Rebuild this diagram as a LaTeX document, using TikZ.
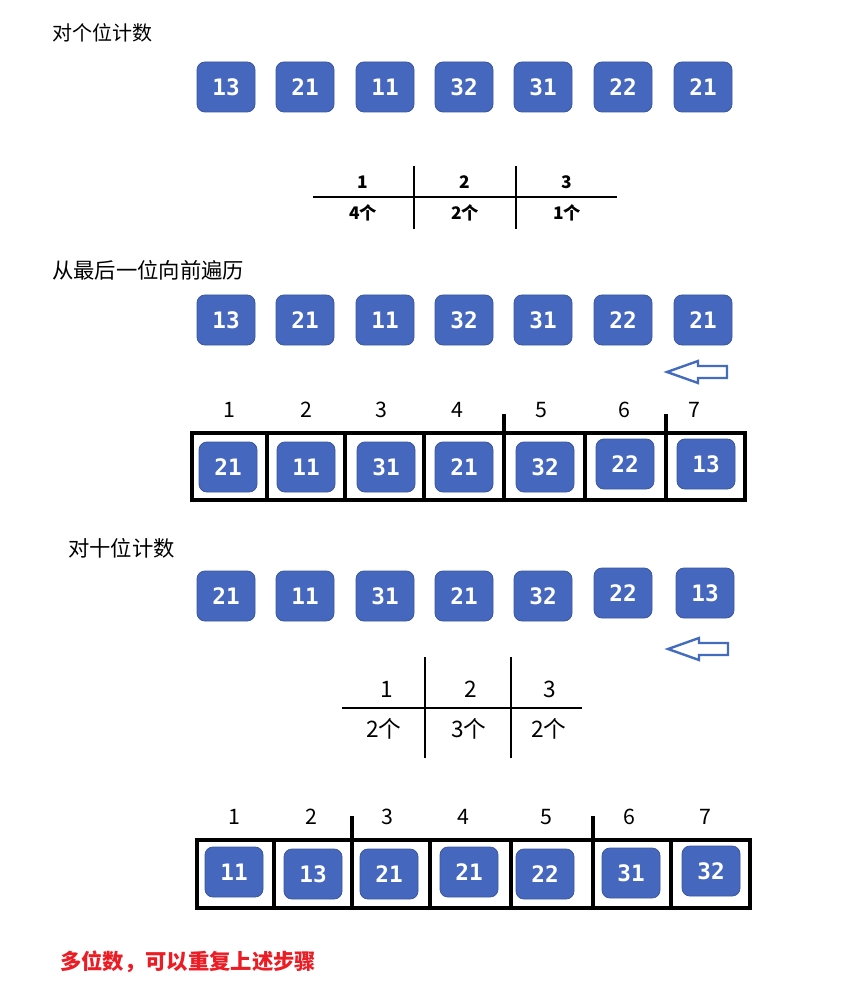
\documentclass[tikz,border=0pt]{standalone}
\usepackage{fontspec}
\setmainfont{Noto Sans CJK SC}
\newfontface\tilemonoface{DejaVu Sans Mono Bold}
\definecolor{tileblue}{RGB}{70,103,190}
\definecolor{tileedge}{RGB}{58,86,160}
\definecolor{arrowblue}{RGB}{68,108,190}
\definecolor{notered}{RGB}{236,28,36}
\begin{document}
\begin{tikzpicture}[x=0.75pt,y=-0.75pt,
  tile/.style={rectangle, rounded corners=6pt, fill=tileblue, draw=tileedge, line width=0.6pt,
    minimum width=43.5pt, minimum height=37.5pt, inner sep=0pt, text=white,
    font=\fontsize{17}{17}\tilemonoface},
  title/.style={anchor=west, inner sep=0pt, font=\fontsize{16}{16}\selectfont},
  hdrbold/.style={inner sep=0pt, font=\bfseries\fontsize{13}{13}\selectfont},
  lbl/.style={inner sep=0pt, font=\fontsize{16}{16}\selectfont},
  thinrule/.style={line width=1.6pt},
  boxline/.style={line width=2.3pt},
  hollowarrow/.style={draw=arrowblue, line width=1.8pt, line join=miter, fill=white}
]
\useasboundingbox (0,0) rectangle (863,998);

% ---------- Section 1 ----------
\node[title, font=\fontsize{15}{15}\selectfont] (t1) at (52,33) {对个位计数};
\foreach \v/\x [count=\i] in {13/226,21/305,11/385,32/464,31/543,22/623,21/703}
  \node[tile] (r1\i) at (\x,87) {\v};

\coordinate (h1a) at (313,197); \coordinate (h1b) at (617,197);
\draw[thinrule] (h1a) -- (h1b);
\coordinate (v1a) at (414,166); \coordinate (v1b) at (414,229);
\coordinate (v2a) at (516,166); \coordinate (v2b) at (516,229);
\draw[thinrule] (v1a) -- (v1b);
\draw[thinrule] (v2a) -- (v2b);
\node[hdrbold] (c1h1) at (363,182) {1};
\node[hdrbold] (c1h2) at (465,182) {2};
\node[hdrbold] (c1h3) at (567,182) {3};
\node[hdrbold] (c1v1) at (363,213) {4个};
\node[hdrbold] (c1v2) at (465,213) {2个};
\node[hdrbold] (c1v3) at (567,213) {1个};

% ---------- Section 2 ----------
\node[title] (t2) at (52,270) {从最后一位向前遍历};
\foreach \v/\x [count=\i] in {13/226,21/305,11/385,32/464,31/543,22/623,21/703}
  \node[tile] (r2\i) at (\x,320) {\v};

\draw[hollowarrow] (667,372) -- (698,361) -- (698,366) -- (727,366) -- (727,378) -- (698,378) -- (698,383) -- cycle;

\foreach \n/\x in {1/229,2/306,3/381,4/457,5/541,6/624,7/694}
  \node[lbl] (n2\n) at (\x,410) {\n};
\coordinate (b2a) at (192,433); \coordinate (b2b) at (745,500);
\draw[boxline] (b2a) rectangle (b2b);
\foreach \x in {267,345,424,504,585,666}
  \draw[boxline] (\x,433) -- (\x,500);
\draw[boxline] (504,414) -- (504,433);
\draw[boxline] (666,414) -- (666,433);
\foreach \v/\x/\y [count=\i] in {21/228/467,11/306/467,31/386/467,21/464/467,32/545/467,22/625/464,13/706/464}
  \node[tile] (s2\i) at (\x,\y) {\v};

% ---------- Section 3 ----------
\node[title] (t3) at (68,548) {对十位计数};
\foreach \v/\x/\y [count=\i] in {21/226/596,11/305/596,31/385/596,21/464/596,32/543/596,22/623/593,13/705/593}
  \node[tile] (r3\i) at (\x,\y) {\v};

\draw[hollowarrow] (668,649) -- (699,638) -- (699,643) -- (728,643) -- (728,655) -- (699,655) -- (699,660) -- cycle;

\coordinate (h3a) at (342,708); \coordinate (h3b) at (582,708);
\draw[thinrule] (h3a) -- (h3b);
\draw[thinrule] (425,657) -- (425,758);
\draw[thinrule] (511,657) -- (511,758);
\node[lbl, font=\fontsize{17}{17}\selectfont] (c3h1) at (387,689) {1};
\node[lbl, font=\fontsize{17}{17}\selectfont] (c3h2) at (471,689) {2};
\node[lbl, font=\fontsize{17}{17}\selectfont] (c3h3) at (550,689) {3};
\node[lbl, font=\fontsize{17}{17}\selectfont] (c3v1) at (384,729) {2个};
\node[lbl, font=\fontsize{17}{17}\selectfont] (c3v2) at (469,729) {3个};
\node[lbl, font=\fontsize{17}{17}\selectfont] (c3v3) at (549,729) {2个};

% ---------- Section 4 ----------
\foreach \n/\x in {1/234,2/311,3/387,4/463,5/546,6/629,7/705}
  \node[lbl] (n4\n) at (\x,817) {\n};
\coordinate (b4a) at (197,840); \coordinate (b4b) at (750,908);
\draw[boxline] (b4a) rectangle (b4b);
\foreach \x in {274,352,430,511,593,671}
  \draw[boxline] (\x,840) -- (\x,908);
\draw[boxline] (352,816) -- (352,840);
\draw[boxline] (593,816) -- (593,840);
\foreach \v/\x/\y [count=\i] in {11/234/872,13/313/874,21/389/874,21/469/872,22/545/874,31/631/873,32/711/871}
  \node[tile] (s4\i) at (\x,\y) {\v};

\node[title, text=notered, font=\bfseries\fontsize{16}{16}\selectfont] (note) at (60,962) {多位数，可以重复上述步骤};
\end{tikzpicture}
\end{document}
